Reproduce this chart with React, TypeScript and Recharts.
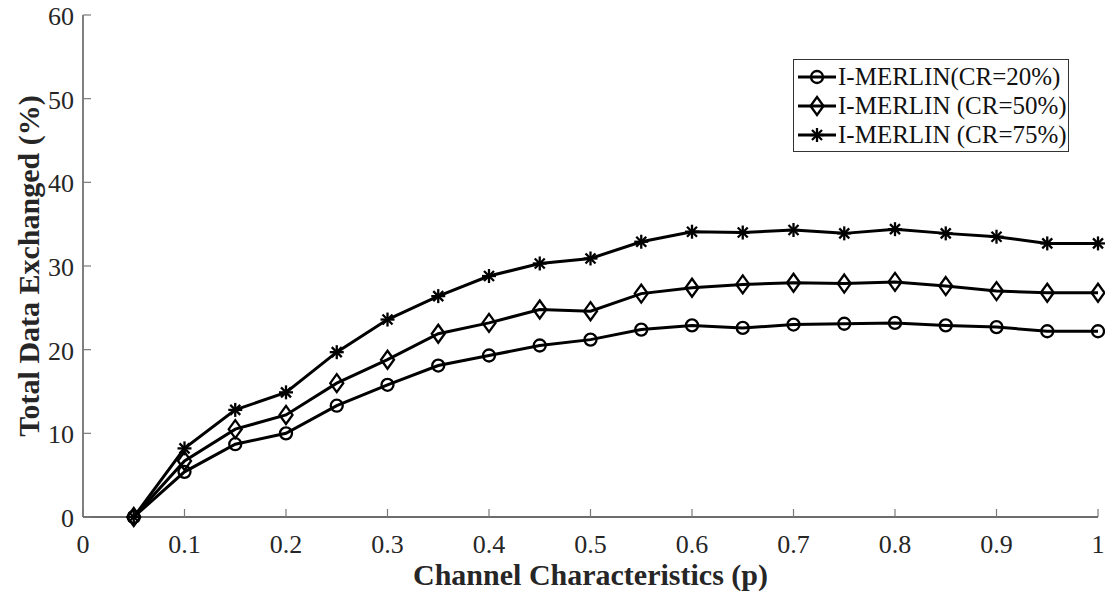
import React from "react";
import {
  LineChart,
  Line,
  XAxis,
  YAxis,
  Legend,
  Label,
} from "recharts";

// channel characteristic p
const P_VALUES = [
  0.05, 0.1, 0.15, 0.2, 0.25, 0.3, 0.35, 0.4, 0.45, 0.5, 0.55, 0.6, 0.65, 0.7,
  0.75, 0.8, 0.85, 0.9, 0.95, 1.0,
];

// total data exchanged (%)
const CR20 = [
  0, 5.4, 8.7, 10.0, 13.3, 15.8, 18.1, 19.3, 20.5, 21.2, 22.4, 22.9, 22.6,
  23.0, 23.1, 23.2, 22.9, 22.7, 22.2, 22.2,
];
const CR50 = [
  0, 6.7, 10.5, 12.2, 16.0, 18.8, 21.9, 23.2, 24.8, 24.6, 26.7, 27.4, 27.8,
  28.0, 27.9, 28.1, 27.6, 27.0, 26.8, 26.8,
];
const CR75 = [
  0, 8.2, 12.8, 14.9, 19.7, 23.6, 26.4, 28.8, 30.3, 30.9, 32.9, 34.1, 34.0,
  34.3, 33.9, 34.4, 33.9, 33.5, 32.7, 32.7,
];

const X_TICKS = [0, 0.1, 0.2, 0.3, 0.4, 0.5, 0.6, 0.7, 0.8, 0.9, 1];
const Y_TICKS = [0, 10, 20, 30, 40, 50, 60];

const SERIES = [
  { key: "cr20", name: "I-MERLIN(CR=20%)", marker: "circle" },
  { key: "cr50", name: "I-MERLIN (CR=50%)", marker: "diamond" },
  { key: "cr75", name: "I-MERLIN (CR=75%)", marker: "star" },
];

const data = P_VALUES.map((p, i) => ({
  p,
  cr20: CR20[i],
  cr50: CR50[i],
  cr75: CR75[i],
}));

const FONT = "'Liberation Serif', 'Times New Roman', serif";
const TEXT = "#262626";
const TICK = "#7a7a7a";

function Marker({ type, cx, cy }: { type: string; cx: number; cy: number }) {
  const sw = 2.3;
  if (type === "circle") {
    return <circle cx={cx} cy={cy} r={6} fill="none" stroke="#000" strokeWidth={sw} />;
  }
  if (type === "diamond") {
    const pts = `${cx},${cy - 9} ${cx + 6.5},${cy} ${cx},${cy + 9} ${cx - 6.5},${cy}`;
    return <polygon points={pts} fill="none" stroke="#000" strokeWidth={sw} />;
  }
  const r = 7;
  const d = 5;
  return (
    <g stroke="#000" strokeWidth={sw}>
      <line x1={cx - r} y1={cy} x2={cx + r} y2={cy} />
      <line x1={cx} y1={cy - r} x2={cx} y2={cy + r} />
      <line x1={cx - d} y1={cy - d} x2={cx + d} y2={cy + d} />
      <line x1={cx - d} y1={cy + d} x2={cx + d} y2={cy - d} />
    </g>
  );
}

const makeDot = (type: string) => (props: any) => {
  const { cx, cy, index } = props;
  if (cx == null || cy == null) return <g key={`d-${type}-${index}`} />;
  return (
    <g key={`d-${type}-${index}`}>
      <Marker type={type} cx={cx} cy={cy} />
    </g>
  );
};

// inward ticks, matlab style
const BottomTick = (props: any) => {
  const { x, y, payload } = props;
  return (
    <g>
      <line x1={x} y1={y} x2={x} y2={y - 8} stroke={TICK} strokeWidth={1.2} />
      <text x={x} y={y + 36} textAnchor="middle" fill={TEXT} fontSize={26} fontFamily={FONT}>
        {payload.value}
      </text>
    </g>
  );
};

const LeftTick = (props: any) => {
  const { x, y, payload } = props;
  return (
    <g>
      <line x1={x} y1={y} x2={x + 8} y2={y} stroke={TICK} strokeWidth={1.2} />
      <text x={x - 9} y={y + 10} textAnchor="end" fill={TEXT} fontSize={26} fontFamily={FONT}>
        {payload.value}
      </text>
    </g>
  );
};

const TopTick = (props: any) => {
  const { x, y } = props;
  return <line x1={x} y1={y} x2={x} y2={y + 8} stroke={TICK} strokeWidth={1.2} />;
};

const RightTick = (props: any) => {
  const { x, y } = props;
  return <line x1={x} y1={y} x2={x - 8} y2={y} stroke={TICK} strokeWidth={1.2} />;
};

const LegendBox = (props: any) => {
  const payload = props.payload || [];
  const rows = SERIES.map((s) => ({
    ...s,
    entry: payload.find((e: any) => e.dataKey === s.key),
  }));
  return (
    <div
      style={{
        border: "1px solid #333",
        background: "#fff",
        padding: "2px 0 2px 3px",
        width: 276,
        boxSizing: "border-box",
      }}
    >
      {rows.map((r) => (
        <div
          key={r.key}
          style={{ display: "flex", alignItems: "center", height: 29 }}
        >
          <svg width={40} height={24} style={{ flex: "none" }}>
            <line x1={1} y1={12} x2={39} y2={12} stroke="#000" strokeWidth={3} />
            <Marker type={r.marker} cx={20} cy={12} />
          </svg>
          <span
            style={{
              fontFamily: FONT,
              fontSize: 25,
              color: "#111",
              marginLeft: 1,
              whiteSpace: "nowrap",
              lineHeight: "29px",
            }}
          >
            {r.entry ? r.entry.value : r.name}
          </span>
        </div>
      ))}
    </div>
  );
};

export default function App() {
  return (
    <div style={{ position: "absolute", left: 0, top: 0, background: "#fff" }}>
      <LineChart
        width={1105}
        height={596}
        data={data}
        margin={{ top: 15, right: 7, left: 23, bottom: 49 }}
      >
        <XAxis
          dataKey="p"
          type="number"
          domain={[0, 1]}
          ticks={X_TICKS}
          interval={0}
          tickLine={false}
          tickSize={0}
          tickMargin={0}
          height={30}
          axisLine={{ stroke: "#3c3c3c", strokeWidth: 1.3 }}
          tick={<BottomTick />}
        >
          <Label
            value="Channel Characteristics (p)"
            position="bottom"
            offset={17}
            style={{
              fontFamily: FONT,
              fontSize: 30,
              fontWeight: "bold",
              fill: TEXT,
            }}
          />
        </XAxis>
        <XAxis
          xAxisId="top"
          orientation="top"
          type="number"
          domain={[0, 1]}
          ticks={X_TICKS}
          interval={0}
          tickLine={false}
          tickSize={0}
          tickMargin={0}
          height={0}
          axisLine={{ stroke: "#8c8c8c", strokeWidth: 1.3 }}
          tick={<TopTick />}
        />
        <YAxis
          type="number"
          domain={[0, 60]}
          ticks={Y_TICKS}
          interval={0}
          width={60}
          tickLine={false}
          tickSize={0}
          tickMargin={0}
          axisLine={{ stroke: "#3c3c3c", strokeWidth: 1.3 }}
          tick={<LeftTick />}
        >
          <Label
            value="Total Data Exchanged (%)"
            angle={-90}
            position="insideLeft"
            offset={5}
            style={{
              fontFamily: FONT,
              fontSize: 30,
              fontWeight: "bold",
              fill: TEXT,
              textAnchor: "middle",
            }}
          />
        </YAxis>
        <YAxis
          yAxisId="right"
          orientation="right"
          type="number"
          domain={[0, 60]}
          ticks={Y_TICKS}
          interval={0}
          width={0}
          tickLine={false}
          tickSize={0}
          tickMargin={0}
          axisLine={{ stroke: "#8c8c8c", strokeWidth: 1.3 }}
          tick={<RightTick />}
        />
        <Legend
          layout="vertical"
          align="center"
          verticalAlign="middle"
          content={<LegendBox />}
          wrapperStyle={{ left: 793, top: 59, width: 276 }}
        />
        {SERIES.map((s) => (
          <Line
            key={s.key}
            type="linear"
            dataKey={s.key}
            name={s.name}
            stroke="#000"
            strokeWidth={3}
            dot={makeDot(s.marker)}
            activeDot={false}
            isAnimationActive={false}
          />
        ))}
      </LineChart>
    </div>
  );
}
